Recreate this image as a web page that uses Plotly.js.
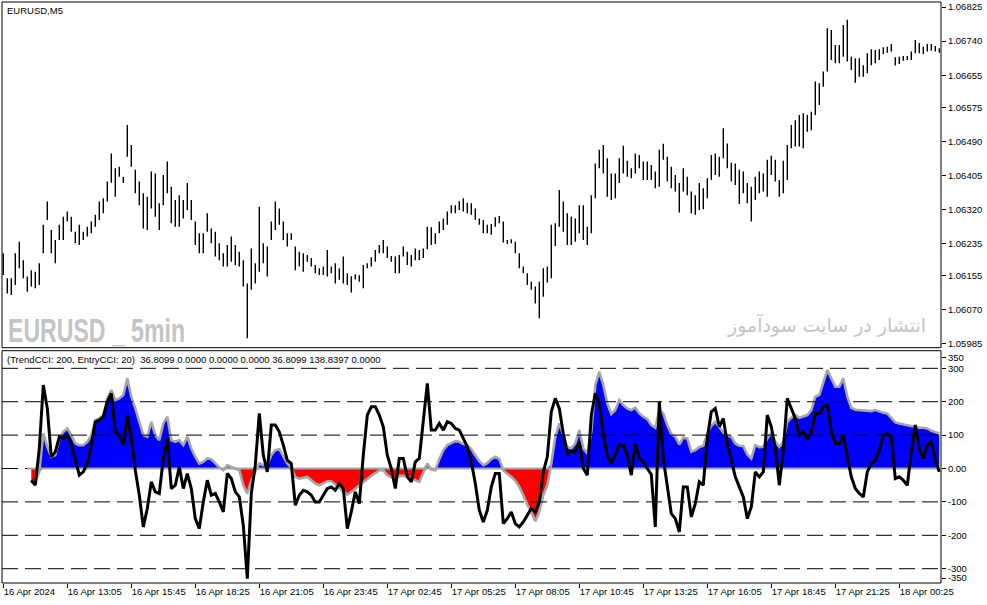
<!DOCTYPE html>
<html><head><meta charset="utf-8">
<script src="https://cdn.plot.ly/plotly-3.0.1.min.js"></script>
<style>html,body{margin:0;padding:0;background:#fff}#chart{width:987px;height:605px}</style>
</head><body><div id="chart"></div>
<script>
const symbolTitle = 'EURUSD,M5';
const indicatorTitle = '(TrendCCI: 200, EntryCCI: 20)  36.8099 0.0000 0.0000 0.0000 36.8099 138.8397 0.0000';
const watermarkLatin = 'EURUSD _ 5min';
const watermarkPersian = 'انتشار در سایت سودآموز';
const barsPerSample = 2; // each sample covers two 5-minute bars
const timeTickBars = [0,32,64,96,128,160,192,224,256,288,320,352,384,416,448];
const timeTickLabels = ['16 Apr 2024','16 Apr 13:05','16 Apr 15:45','16 Apr 18:25','16 Apr 21:05','16 Apr 23:45','17 Apr 02:45','17 Apr 05:25','17 Apr 08:05','17 Apr 10:45','17 Apr 13:25','17 Apr 16:05','17 Apr 18:45','17 Apr 21:25','18 Apr 00:25'];
const priceTickLabels = ['1.06825','1.06740','1.06655','1.06575','1.06490','1.06405','1.06320','1.06235','1.06155','1.06070','1.05985'];
const cciTickValues = [332,300,200,100,0,-100,-200,-300,-328];
const cciTickLabels = ['350','300','200','100','0.00','-100','-200','-300','-350'];
const cciLevels = [300,200,100,0,-100,-200,-300];

const priceHigh = [
1.06211,1.06149,1.06149,1.06211,1.06240,1.06194,1.06153,1.06169,1.06165,1.06186,
1.06282,1.06340,1.06269,1.06244,1.06282,1.06302,1.06315,1.06302,1.06265,1.06282,
1.06265,1.06277,1.06290,1.06307,1.06340,1.06348,1.06390,1.06460,1.06423,1.06427,
1.06402,1.06531,1.06481,1.06419,1.06390,1.06361,1.06352,1.06415,1.06410,1.06336,
1.06406,1.06440,1.06377,1.06344,1.06356,1.06344,1.06386,1.06344,1.06290,1.06261,
1.06261,1.06311,1.06273,1.06265,1.06236,1.06211,1.06232,1.06253,1.06232,1.06215,
1.06194,1.06136,1.06223,1.06186,1.06327,1.06236,1.06228,1.06290,1.06340,1.06323,
1.06290,1.06261,1.06261,1.06228,1.06215,1.06211,1.06207,1.06199,1.06182,1.06174,
1.06178,1.06219,
1.06178,1.06186,1.06174,1.06203,1.06161,1.06154,1.06159,1.06156,1.06182,1.06186,
1.06201,1.06219,1.06232,1.06244,1.06228,1.06204,1.06203,1.06207,1.06228,1.06215,
1.06207,1.06223,1.06219,1.06223,1.06277,1.06276,1.06261,1.06290,1.06298,1.06315,
1.06331,1.06331,1.06341,1.06348,1.06337,1.06336,1.06323,1.06298,1.06294,1.06282,
1.06284,1.06301,1.06304,1.06290,1.06244,1.06246,1.06240,1.06211,1.06178,1.06161,
1.06140,1.06128,1.06140,1.06174,1.06178,1.06282,1.06286,1.06369,1.06340,1.06311,
1.06302,1.06298,1.06331,1.06331,1.06277,1.06356,1.06435,1.06469,1.06481,1.06448,
1.06410,1.06410,1.06448,1.06479,1.06442,1.06423,1.06460,1.06456,1.06440,1.06440,
1.06431,1.06415,1.06469,
1.06484,1.06452,1.06427,1.06406,1.06386,1.06423,1.06402,1.06365,1.06356,1.06386,
1.06373,1.06398,1.06456,1.06460,1.06452,1.06523,1.06485,1.06437,1.06435,1.06419,
1.06415,1.06386,1.06377,1.06402,1.06415,1.06410,1.06444,1.06454,1.06444,1.06394,
1.06442,1.06481,1.06531,1.06543,1.06556,1.06560,1.06556,1.06564,1.06639,1.06635,
1.06664,1.06772,1.06768,1.06730,1.06730,1.06780,1.06793,1.06701,1.06697,1.06697,
1.06680,1.06710,1.06720,1.06718,1.06720,1.06725,1.06726,1.06733,1.06700,1.06701,
1.06703,1.06703,1.06714,1.06743,1.06735,1.06726,1.06733,1.06733,1.06728,1.06722
];
const priceLow = [
1.06157,1.06111,1.06107,1.06132,1.06174,1.06149,1.06115,1.06128,1.06124,1.06132,
1.06211,1.06294,1.06211,1.06186,1.06244,1.06244,1.06290,1.06265,1.06236,1.06232,
1.06244,1.06253,1.06261,1.06277,1.06294,1.06311,1.06340,1.06387,1.06352,1.06402,
1.06386,1.06452,1.06427,1.06361,1.06331,1.06273,1.06269,1.06323,1.06302,1.06269,
1.06331,1.06361,1.06286,1.06277,1.06277,1.06298,1.06319,1.06294,1.06232,1.06211,
1.06211,1.06265,1.06236,1.06203,1.06194,1.06178,1.06178,1.06190,1.06182,1.06178,
1.06128,1.05999,1.06120,1.06136,1.06165,1.06186,1.06153,1.06244,1.06269,1.06282,
1.06244,1.06228,1.06244,1.06169,1.06178,1.06165,1.06190,1.06178,1.06161,1.06157,
1.06157,1.06153,
1.06161,1.06136,1.06145,1.06136,1.06132,1.06113,1.06146,1.06140,1.06124,1.06174,
1.06178,1.06190,1.06211,1.06211,1.06199,1.06190,1.06161,1.06161,1.06203,1.06182,
1.06178,1.06194,1.06194,1.06199,1.06221,1.06232,1.06234,1.06261,1.06269,1.06282,
1.06311,1.06311,1.06319,1.06315,1.06311,1.06307,1.06294,1.06282,1.06261,1.06261,
1.06257,1.06277,1.06286,1.06238,1.06234,1.06236,1.06211,1.06174,1.06161,1.06132,
1.06120,1.06086,1.06049,1.06103,1.06138,1.06149,1.06229,1.06277,1.06265,1.06232,
1.06232,1.06240,1.06261,1.06244,1.06232,1.06261,1.06348,1.06423,1.06410,1.06352,
1.06344,1.06348,1.06386,1.06410,1.06402,1.06398,1.06410,1.06423,1.06394,1.06394,
1.06394,1.06373,1.06377,
1.06444,1.06390,1.06373,1.06365,1.06313,1.06365,1.06356,1.06311,1.06307,1.06319,
1.06321,1.06348,1.06394,1.06406,1.06402,1.06448,1.06423,1.06390,1.06381,1.06334,
1.06361,1.06336,1.06290,1.06344,1.06361,1.06365,1.06352,1.06406,1.06390,1.06352,
1.06361,1.06394,1.06473,1.06477,1.06477,1.06473,1.06514,1.06518,1.06556,1.06581,
1.06626,1.06664,1.06693,1.06685,1.06685,1.06701,1.06689,1.06668,1.06636,1.06651,
1.06651,1.06660,1.06680,1.06685,1.06693,1.06708,1.06711,1.06714,1.06679,1.06683,
1.06691,1.06693,1.06693,1.06710,1.06710,1.06708,1.06714,1.06716,1.06714,1.06711
];
const trendCCI = [
null,null,null,null,null,null,null,
-40,-40,-10,105,65,35,40,90,110,120,100,75,70,70,80,100,145,150,160,210,235,205,210,220,
270,215,180,140,100,95,140,100,85,135,155,85,80,85,70,95,60,35,15,20,30,28,15,3,-5,10,
5,0,-5,-50,-75,-35,-10,15,10,10,40,55,58,35,15,3,-25,-30,-28,-25,-35,-45,-50,-45,-38,
-38,-48,-58,-70,-78,-70,-60,-52,-40,-30,
-22,-14,-5,-5,-20,-27,-30,-22,-22,-25,
-30,-35,-40,-12,15,-3,-5,28,55,70,
75,82,80,73,70,58,40,22,10,16,
28,35,28,-5,-16,-25,-37,-55,-80,-108,
-130,-158,-130,-80,-50,15,95,135,100,65,
60,75,115,60,45,110,250,290,250,195,
163,175,205,190,180,175,182,165,155,148,
130,122,175,
165,130,103,95,72,92,90,50,55,64,
68,105,128,140,122,108,100,95,75,68,
67,42,30,70,64,65,90,108,80,65,
80,140,152,160,152,155,160,175,215,220,
255,295,270,245,245,270,215,182,176,175,
175,175,172,175,170,167,165,152,138,135,
132,130,128,125,122,122,120,113,110,105
];
const entryCCI = [
null,null,null,null,null,null,null,
-35,-50,60,250,180,35,50,95,90,100,75,25,-20,-10,15,70,140,145,155,200,225,110,100,70,
160,90,-5,-80,-175,-120,-40,-70,-75,30,90,-60,-50,5,-60,-15,-60,-150,-180,-100,-35,-80,
-75,-100,-130,-15,-30,-70,-85,-170,-330,-75,10,165,40,-10,130,130,110,70,25,15,-110,-80,
-65,-70,-80,-100,-100,-80,-60,
-55,-65,-45,-60,-180,-130,-70,-105,40,160,
185,185,160,125,40,0,-60,30,30,-25,
-40,20,30,150,255,115,115,135,115,140,
135,120,115,90,65,20,-45,-125,-160,-125,
-55,-15,-15,-165,-150,-130,-165,-175,-160,-140,
-120,-130,-100,-10,35,170,210,180,105,45,
52,50,80,0,-20,160,225,195,100,40,
15,40,72,70,40,-20,75,30,20,0,
-18,-175,200,
30,-55,-135,-150,-190,-55,-55,-145,-105,-40,
-50,90,170,180,125,150,75,25,-25,-55,
-85,-150,-115,-10,-25,-10,160,125,60,-50,
55,210,180,150,100,110,90,110,165,165,
185,190,110,75,75,100,35,-25,-60,-75,
-85,-10,15,25,55,100,105,95,-30,-25,
-35,-50,50,130,60,30,70,80,25,-10
];

// ---- build traces ----
const sampleX = priceHigh.map((_, i) => i * barsPerSample);
const xRange = [-0.65, 468.85];
const barXs = [], barYs = [];
sampleX.forEach((x, i) => { barXs.push(x, x, null); barYs.push(priceLow[i], priceHigh[i], null); });
const trendPos = trendCCI.map(v => v == null ? null : Math.max(v, 0));
const trendNeg = trendCCI.map(v => v == null ? null : Math.min(v, 0));
const firstCCI = trendCCI.findIndex(v => v != null);

const data = [
  {type:'scatter', mode:'lines', x:barXs, y:barYs, yaxis:'y', line:{color:'#000', width:1.4}, hoverinfo:'skip'},
  {type:'scatter', mode:'lines', x:sampleX, y:trendPos, yaxis:'y2', fill:'tozeroy', fillcolor:'#0000ff', line:{width:0, color:'#0000ff'}, hoverinfo:'skip'},
  {type:'scatter', mode:'lines', x:sampleX, y:trendNeg, yaxis:'y2', fill:'tozeroy', fillcolor:'#ff0000', line:{width:0, color:'#ff0000'}, hoverinfo:'skip'},
  {type:'scatter', mode:'lines', x:sampleX, y:trendCCI, yaxis:'y2', line:{color:'#a6a6a6', width:2.6}, hoverinfo:'skip'}
];
cciLevels.forEach(lv => data.push({type:'scatter', mode:'lines', x:xRange, y:[lv, lv], yaxis:'y2',
  line:{color:'#000', width:1, dash:'16px,7px'}, hoverinfo:'skip'}));
data.push({type:'scatter', mode:'lines', x:[sampleX[firstCCI] - barsPerSample, sampleX[sampleX.length-1]], y:[0,0], yaxis:'y2',
  line:{color:'#a6a6a6', width:2}, hoverinfo:'skip'});
data.push({type:'scatter', mode:'lines', x:sampleX, y:entryCCI, yaxis:'y2', line:{color:'#000', width:3}, hoverinfo:'skip'});

const px2paperX = px => (px - 2) / 939;
const px2paperY = py => (583 - py) / 581;

const layout = {
  width:987, height:605, margin:{l:2, r:46, t:2, b:22},
  paper_bgcolor:'#ffffff', plot_bgcolor:'#ffffff', showlegend:false,
  font:{family:'Liberation Sans, Arial, sans-serif', size:9, color:'#000'},
  xaxis:{range:xRange, anchor:'y2', showgrid:false, zeroline:false, showline:false,
    ticks:'outside', ticklen:4, tickcolor:'#000', tickwidth:1,
    tickvals:timeTickBars, ticktext:timeTickLabels, ticklabelposition:'outside right',
    tickfont:{size:9.5, color:'#000'}},
  yaxis:{domain:[0.405, 1], range:[1.059757, 1.068375], side:'right', anchor:'x',
    showgrid:false, zeroline:false, showline:false, ticks:'outside', ticklen:4, tickcolor:'#000',
    tickvals:priceTickLabels.map(Number), ticktext:priceTickLabels, tickfont:{size:9.5, color:'#000'}},
  yaxis2:{domain:[0, 0.3998], range:[-342.8, 352.7], side:'right', anchor:'x',
    showgrid:false, zeroline:false, showline:false, ticks:'outside', ticklen:4, tickcolor:'#000',
    tickvals:cciTickValues, ticktext:cciTickLabels, tickfont:{size:9.5, color:'#000'}},
  shapes:[
    {type:'rect', xref:'paper', yref:'paper', x0:0, x1:1, y0:0.405, y1:1, line:{color:'#000', width:1}},
    {type:'rect', xref:'paper', yref:'paper', x0:0, x1:1, y0:0, y1:0.3998, line:{color:'#000', width:1}}
  ],
  annotations:[
    {xref:'paper', yref:'paper', x:px2paperX(5), y:px2paperY(11), xanchor:'left', yanchor:'middle', align:'left',
     text:symbolTitle, showarrow:false, font:{size:9.5, color:'#000'}},
    {xref:'paper', yref:'paper', x:px2paperX(5), y:px2paperY(359.5), xanchor:'left', yanchor:'middle', align:'left',
     text:indicatorTitle, showarrow:false, font:{size:9.5, color:'#000'}},
    {xref:'paper', yref:'paper', x:px2paperX(6), y:px2paperY(329.5), xanchor:'left', yanchor:'middle', align:'left',
     text:watermarkLatin, showarrow:false, font:{family:'Liberation Sans Narrow, Liberation Sans, Arial, sans-serif', size:34, color:'#c4c4c4', weight:700}},
    {xref:'paper', yref:'paper', x:px2paperX(725), y:px2paperY(325), xanchor:'left', yanchor:'middle', align:'left',
     text:watermarkPersian, showarrow:false, font:{family:'DejaVu Sans, Noto Sans, sans-serif', size:19, color:'#c4c4c4'}}
  ]
};

Plotly.newPlot('chart', data, layout, {staticPlot:true, displayModeBar:false}).then(gd => {
  gd.querySelectorAll('.annotation-text').forEach(t => {
    const s = t.textContent;
    if (s === watermarkLatin) { t.setAttribute('textLength', '177'); t.setAttribute('lengthAdjust', 'spacingAndGlyphs'); }
    if (s === watermarkPersian) { t.setAttribute('textLength', '198'); t.setAttribute('lengthAdjust', 'spacingAndGlyphs'); }
  });
});
</script>
</body></html>
